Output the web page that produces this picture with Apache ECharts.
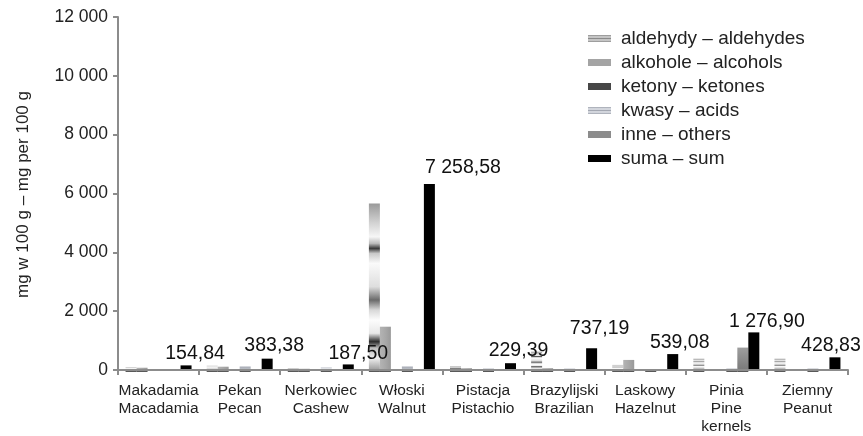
<!DOCTYPE html>
<html>
<head>
<meta charset="utf-8">
<script src="https://cdn.jsdelivr.net/npm/echarts@6/dist/echarts.min.js"></script>
<style>
  html, body { margin: 0; padding: 0; background: #fff; }
  #chart { width: 863px; height: 436px; }
</style>
</head>
<body>
<div id="chart"></div>
<script>
// Volatile compounds in nuts, mg per 100 g
const categories = [
  'Makadamia\nMacadamia', 'Pekan\nPecan', 'Nerkowiec\nCashew', 'Włoski\nWalnut',
  'Pistacja\nPistachio', 'Brazylijski\nBrazilian', 'Laskowy\nHazelnut',
  'Pinia\nPine\nkernels', 'Ziemny\nPeanut'
];
const seriesNames = [
  'aldehydy – aldehydes', 'alkohole – alcohols', 'ketony – ketones',
  'kwasy – acids', 'inne – others', 'suma – sum'
];
const aldehydes = [80, 140, 50, 5660, 120, 620, 170, 380, 380];
const alcohols  = [75, 110, 40, 1470, 60, 60, 340, 0, 0];
const ketones   = [0, 0, 0, 0, 0, 0, 0, 0, 0];
const acids     = [0, 130, 97, 130, 50, 57, 30, 50, 50];
const others    = [0, 0, 0, 0, 0, 0, 0, 760, 0];
const sums      = [154.84, 383.38, 187.50, 7258.58, 229.39, 737.19, 539.08, 1276.90, 428.83];
const yTicks    = [0, 2000, 4000, 6000, 8000, 10000, 12000];

const FONT = 'Arial, "Liberation Sans", sans-serif';

// "7 258,58" style numbers
function fmt(v, dec) {
  const s = v.toFixed(dec);
  const parts = s.split('.');
  const int = parts[0].replace(/\B(?=(\d{3})+(?!\d))/g, ' ');
  return parts.length > 1 ? int + ',' + parts[1] : int;
}

function vgrad(stops) {
  return new echarts.graphic.LinearGradient(0, 0, 0, 1,
    stops.map(s => ({ offset: s[0], color: s[1] })));
}
function hgrad(stops) {
  return new echarts.graphic.LinearGradient(0, 0, 1, 0,
    stops.map(s => ({ offset: s[0], color: s[1] })));
}

// banded grey texture for aldehydes, stretched over each bar
const aldFill = vgrad([
  [0, '#9a9a9a'], [0.12, '#d4d4d4'], [0.2, '#f6f6f6'], [0.24, '#bcbcbc'],
  [0.27, '#3a3a3a'], [0.3, '#c8c8c8'], [0.36, '#fafafa'], [0.5, '#dedede'],
  [0.58, '#6a6a6a'], [0.64, '#d8d8d8'], [0.7, '#fcfcfc'], [0.78, '#e8e8e8'],
  [0.83, '#2c2c2c'], [0.87, '#bdbdbd'], [0.93, '#eeeeee'], [1, '#9c9c9c']
]);
const alcFill = hgrad([[0, '#b4b4b4'], [0.5, '#a8a8a8'], [1, '#999999']]);
const ketFill = hgrad([[0, '#5a5a5a'], [0.5, '#474747'], [1, '#3a3a3a']]);
const acidFill = vgrad([
  [0, '#b7bac2'], [0.2, '#e4e6ea'], [0.35, '#a9adb6'], [0.5, '#e2e4e8'],
  [0.65, '#acb0b8'], [0.8, '#e0e2e6'], [1, '#9a9ea6']
]);
const othFill = vgrad([[0, '#9e9e9e'], [1, '#7a7a7a']]);
const sumFill = '#000000';

// small striped swatches for the legend
const aldSwatch = vgrad([
  [0, '#8a8a8a'], [0.3, '#dcdcdc'], [0.5, '#8a8a8a'], [0.7, '#dcdcdc'], [1, '#8a8a8a']
]);
const acidSwatch = vgrad([
  [0, '#9ea3ad'], [0.3, '#e6e8ee'], [0.5, '#a4a8b2'], [0.7, '#e6e8ee'], [1, '#9ea3ad']
]);

const components = [
  { data: aldehydes, fill: aldFill },
  { data: alcohols,  fill: alcFill },
  { data: ketones,   fill: ketFill },
  { data: acids,     fill: acidFill },
  { data: others,    fill: othFill }
];

const BAR_W = 11;
const BASE = -65; // dark foot under each filled bar, below the zero line

const series = [];
components.forEach((c, i) => {
  series.push({
    name: seriesNames[i], type: 'bar', stack: 's' + i,
    barWidth: BAR_W, barGap: '0%',
    itemStyle: { color: c.fill },
    data: c.data.map(v => (v > 0 ? v : null)),
    z: 2
  });
  series.push({
    name: seriesNames[i], type: 'bar', stack: 's' + i,
    barWidth: BAR_W, barGap: '0%',
    itemStyle: { color: '#3c3c3c' },
    data: c.data.map(v => (v > 0 ? BASE : null)),
    z: 2
  });
});

// hand-placed sum labels; the tall walnut label sits on a white box
const labelShift = [[9, 3], [7, 2], [10, 4], [33.5, 32.5], [8, 2], [8, -5], [7, 4], [13, 4], [-4, 3]];
series.push({
  name: seriesNames[5], type: 'bar', stack: 's5',
  barWidth: BAR_W, barGap: '0%',
  itemStyle: { color: sumFill },
  data: sums.map((v, i) => ({
    value: v,
    label: i === 3
      ? { offset: labelShift[i], backgroundColor: '#ffffff', padding: [6, 2, 6, 2] }
      : { offset: labelShift[i] }
  })),
  label: {
    show: true, position: 'top', distance: 5,
    fontFamily: FONT, fontSize: 19.5, color: '#111',
    formatter: p => fmt(p.value, 2)
  },
  z: 3
});

const legendSwatches = [aldSwatch, '#a4a4a4', '#474747', acidSwatch, '#8c8c8c', '#000000'];

const chart = echarts.init(document.getElementById('chart'), null, { renderer: 'canvas' });
chart.setOption({
  animation: false,
  backgroundColor: '#ffffff',
  textStyle: { fontFamily: FONT },
  grid: { left: 118, right: 15, top: 17, bottom: 57, containLabel: false },
  legend: {
    data: seriesNames.map((n, i) => ({ name: n, itemStyle: { color: legendSwatches[i] } })),
    orient: 'vertical',
    left: 583, top: 24,
    itemWidth: 23, itemHeight: 7, itemGap: 5,
    icon: 'rect',
    textStyle: { fontFamily: FONT, fontSize: 19, color: '#222', padding: [0, 0, 0, 5] }
  },
  xAxis: {
    type: 'category',
    data: categories,
    axisLine: { onZero: true, lineStyle: { color: '#8c8c8c', width: 2 } },
    axisTick: { show: true, length: 5, interval: 0, lineStyle: { color: '#8c8c8c', width: 2 } },
    axisLabel: {
      interval: 0, margin: 10, fontFamily: FONT, fontSize: 15.5, color: '#222', lineHeight: 18
    },
    z: 5
  },
  yAxis: {
    type: 'value',
    min: -70, max: 12000,
    name: 'mg w 100 g – mg per 100 g',
    nameLocation: 'middle', nameGap: 86,
    nameTextStyle: { fontFamily: FONT, fontSize: 17, color: '#222' },
    axisLine: { show: true, lineStyle: { color: '#8c8c8c', width: 2 } },
    axisTick: { show: true, length: 5, customValues: yTicks, lineStyle: { color: '#8c8c8c', width: 2 } },
    axisLabel: {
      customValues: yTicks, margin: 10,
      fontFamily: FONT, fontSize: 17.5, color: '#222',
      formatter: v => fmt(v, 0)
    },
    splitLine: { show: false }
  },
  series: series
});
</script>
</body>
</html>
